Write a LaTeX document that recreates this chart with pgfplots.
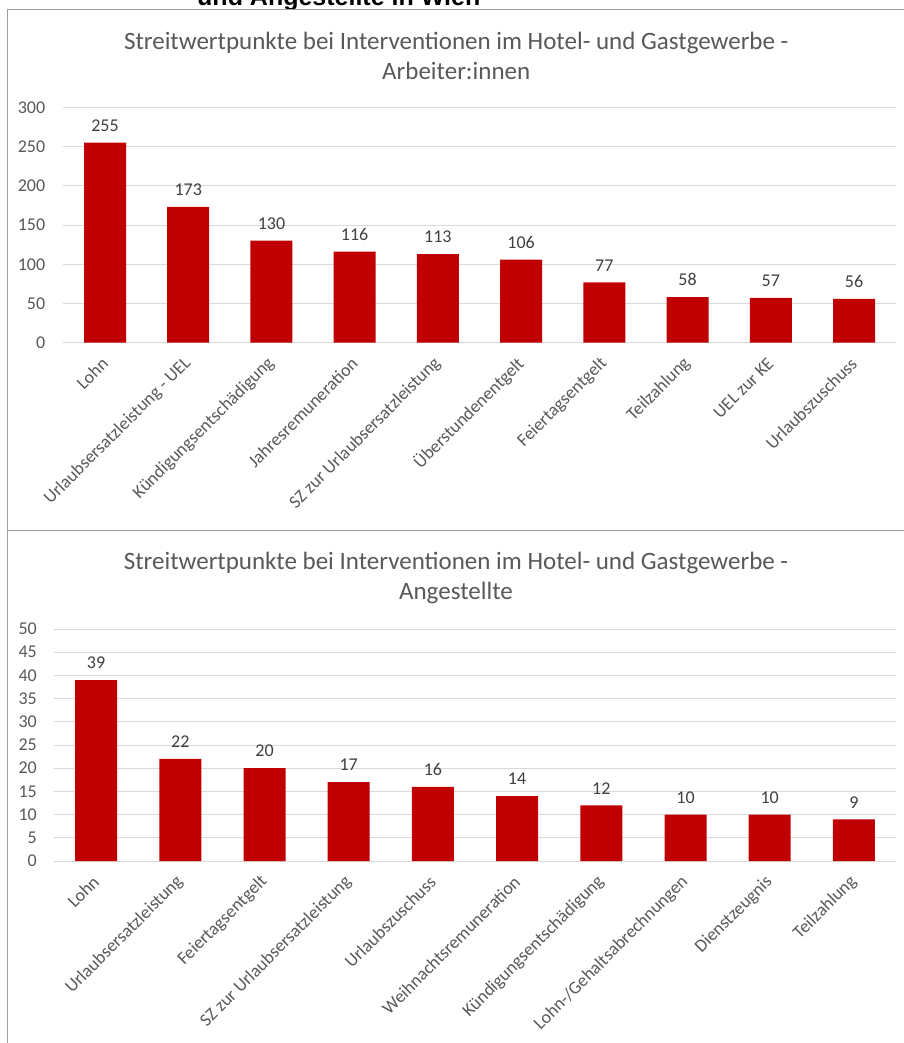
\documentclass[border=0pt]{standalone}
\usepackage{fontspec}
\setmainfont{Carlito}
\newfontfamily\headfont{Liberation Sans}
\usepackage{pgfplots}
\pgfplotsset{compat=1.18}
\definecolor{barred}{RGB}{192,0,0}
\definecolor{txtgray}{RGB}{89,89,89}
\definecolor{lblgray}{RGB}{64,64,64}
\definecolor{gridgray}{RGB}{217,217,217}
\definecolor{framegray}{RGB}{160,160,160}
\pgfplotsset{
  mybar/.style={
    ybar, scale only axis, bar width=42pt,
    xmin=-0.5, xmax=9.5, ymin=0,
    xtick={0,...,9},
    axis line style={draw=none},
    major tick length=0pt,
    ymajorgrids, major grid style={gridgray, line width=0.9pt},
    tick label style={font=\fontsize{18}{21}\selectfont, text=txtgray},
    /pgf/number format/assume math mode=true,
    xticklabel style={yshift=-18pt, rotate=45, anchor=east, inner sep=0pt},
    yticklabel style={anchor=east, inner sep=0pt},
    nodes near coords,
    every node near coord/.append style={font=\fontsize{18}{21}\selectfont, text=lblgray, inner sep=0pt, anchor=south, yshift=11pt},
    title style={font=\fontsize{25}{30}\selectfont, text=txtgray, align=center, anchor=center},
    clip=false,
  }
}
\begin{document}
\begin{tikzpicture}
\path[use as bounding box] (0pt,0pt) rectangle (903pt,-1043pt);
\fill[white] (0pt,0pt) rectangle (903pt,-1043pt);
\node[anchor=base west, inner sep=0pt, font=\headfont\bfseries\fontsize{25}{30}\selectfont] at (197pt,-6pt) {und Angestellte in Wien};
\fill[white] (0pt,-10pt) rectangle (903pt,-1043pt);
\draw[framegray, line width=1pt] (7pt,-1060pt) -- (7pt,-10pt) -- (920pt,-10pt);
\draw[framegray, line width=1pt] (7pt,-530pt) -- (920pt,-530pt);

\begin{axis}[mybar,
  at={(63.4pt,-342.7pt)}, anchor=south west,
  width=832.2pt, height=235.4pt,
  ymax=300, ytick={0,50,...,300},
  yticklabel style={xshift=-18pt},
  xticklabels={Lohn,Urlaubsersatzleistung - UEL,Kündigungsentschädigung,Jahresremuneration,SZ zur Urlaubsersatzleistung,Überstundenentgelt,Feiertagsentgelt,Teilzahlung,UEL zur KE,Urlaubszuschuss},
  title={Streitwertpunkte bei Interventionen im Hotel- und Gastgewerbe -\\Arbeiter:innen},
  title style={at={(axis description cs:0.472,1.191)}},
]
\addplot[fill=barred, draw=none] coordinates {(0,255) (1,173) (2,130) (3,116) (4,113) (5,106) (6,77) (7,58) (8,57) (9,56)};
\end{axis}

\begin{axis}[mybar,
  at={(54pt,-861pt)}, anchor=south west,
  width=842pt, height=232pt,
  ymax=50, ytick={0,5,...,50},
  yticklabel style={xshift=-17pt},
  xticklabels={Lohn,Urlaubsersatzleistung,Feiertagsentgelt,SZ zur Urlaubsersatzleistung,Urlaubszuschuss,Weihnachtsremuneration,Kündigungsentschädigung,Lohn-/Gehaltsabrechnungen,Dienstzeugnis,Teilzahlung},
  title={Streitwertpunkte bei Interventionen im Hotel- und Gastgewerbe -\\Angestellte},
  title style={at={(axis description cs:0.4774,1.194)}},
]
\addplot[fill=barred, draw=none] coordinates {(0,39) (1,22) (2,20) (3,17) (4,16) (5,14) (6,12) (7,10) (8,10) (9,9)};
\end{axis}
\end{tikzpicture}
\end{document}
